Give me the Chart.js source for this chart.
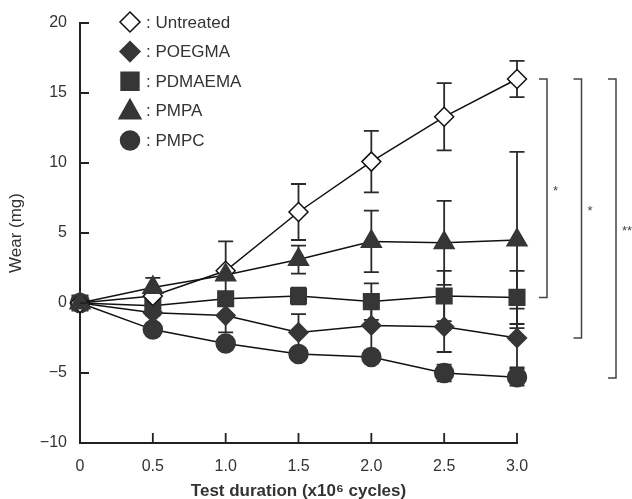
<!DOCTYPE html>
<html>
    <head>
        <meta charset="UTF-8"/>
        <script src="https://cdn.jsdelivr.net/npm/chart.js@4.4.0/dist/chart.umd.min.js"></script>
        <style>
            body{margin:0;background:#fff;}
        </style>
    </head>
    <body>

        <canvas id="chart" width="632" height="499"></canvas>

        <script>
        // x axis: test duration (x10^6 cycles)
        const durations=[0,0.5,1.0,1.5,2.0,2.5,3.0];
        const xTickLabels=['0','0.5','1.0','1.5','2.0','2.5','3.0'];
        const yTicks=[-10,-5,0,5,10,15,20];
        const yTickLabels=['\u221210','\u22125','0','5','10','15','20'];

        const seriesNames=['Untreated','POEGMA','PDMAEMA','PMPA','PMPC'];
        // wear (mg), mean and SD
        const untreated=[0,0.5,2.3,6.5,10.1,13.3,16.0];
        const untreatedErr=[0,0.3,2.1,2.0,2.2,2.4,1.3];
        const poegma=[0,-0.7,-0.9,-2.1,-1.6,-1.7,-2.5];
        const poegmaErr=[0,0.2,1.2,1.3,1.8,1.8,2.1];
        const pdmaema=[0,-0.2,0.3,0.5,0.1,0.5,0.4];
        const pdmaemaErr=[0,0.3,0.3,0.6,1.3,1.8,1.9];
        const pmpa=[0,1.1,2.0,3.1,4.4,4.3,4.5];
        const pmpaErr=[0,0.7,0.3,1.0,2.2,3.0,6.3];
        const pmpc=[0,-1.9,-2.9,-3.65,-3.85,-5.0,-5.3];
        const pmpcErr=[0,0.2,0.3,0.3,0.3,0.6,0.6];

        // significance brackets (top, bottom, label)
        const bracketTop=[16.0,16.0,16.0];
        const bracketBottom=[0.4,-2.5,-5.35];
        const bracketLabels=['*','*','**'];

        const dark='#363636';
        const FONT='"Liberation Sans", Arial, sans-serif';

        function pts(vals){ return vals.map((v,i)=>({x:durations[i],y:v})); }

        function marker(ctx,style,x,y,r,fill){
            ctx.save();
            ctx.beginPath();
            if(style==='rectRot'){
                ctx.moveTo(x,y-r);ctx.lineTo(x+r,y);ctx.lineTo(x,y+r);ctx.lineTo(x-r,y);ctx.closePath();
            }else if(style==='rect'){
                const s=r*0.85;
                ctx.rect(x-s,y-s,2*s,2*s);
            }else if(style==='triangle'){
                ctx.moveTo(x,y-r);ctx.lineTo(x+r*0.95,y+r*0.7);ctx.lineTo(x-r*0.95,y+r*0.7);ctx.closePath();
            }else{
                ctx.arc(x,y,r,0,Math.PI*2);
            }
            ctx.fillStyle=fill;
            ctx.fill();
            ctx.lineWidth=1.5;
            ctx.strokeStyle=fill==='#ffffff'?'#111':dark;
            ctx.stroke();
            ctx.restore();
        }

        const errorBars={
            id:'errorBars',
            beforeDatasetsDraw(chart){
                const ctx=chart.ctx;
                const y=chart.scales.y;
                ctx.save();
                ctx.strokeStyle='#2a2a2a';
                ctx.lineWidth=1.8;
                chart.data.datasets.forEach((ds,di)=>{
                    const meta=chart.getDatasetMeta(di);
                    ds.err.forEach((e,i)=>{
                        if(!e) return;
                        const px=meta.data[i].x;
                        const v=ds.data[i].y;
                        const t=y.getPixelForValue(v+e), b=y.getPixelForValue(v-e);
                        ctx.beginPath();
                        ctx.moveTo(px,t);ctx.lineTo(px,b);
                        ctx.moveTo(px-7.5,t);ctx.lineTo(px+7.5,t);
                        ctx.moveTo(px-7.5,b);ctx.lineTo(px+7.5,b);
                        ctx.stroke();
                    });
                });
                ctx.restore();
            }
        };

        const extras={
            id:'extras',
            afterDraw(chart){
                const ctx=chart.ctx;
                const xs=chart.scales.x, ys=chart.scales.y;
                const a=chart.chartArea;
                ctx.save();
                // inward tick marks
                ctx.strokeStyle='#222';
                ctx.lineWidth=1.8;
                ctx.beginPath();
                yTicks.forEach(v=>{
                    const py=ys.getPixelForValue(v);
                    ctx.moveTo(a.left,py);ctx.lineTo(a.left+9,py);
                });
                durations.forEach(v=>{
                    const px=xs.getPixelForValue(v);
                    ctx.moveTo(px,a.bottom);ctx.lineTo(px,a.bottom-10);
                });
                ctx.stroke();

                // legend
                ctx.font='17px '+FONT;
                ctx.textBaseline='middle';
                chart.data.datasets.forEach((ds,i)=>{
                    const ly=22+i*29.6;
                    marker(ctx,ds.pointStyle,130,ly,ds.legendR,ds.pointBackgroundColor);
                    ctx.fillStyle='#333';
                    ctx.fillText(': '+seriesNames[i],146,ly+1);
                });

                // significance brackets
                ctx.strokeStyle='#444';
                ctx.lineWidth=1.5;
                ctx.font='13px '+FONT;
                bracketTop.forEach((t,i)=>{
                    const bx=a.right+30+i*34.5;
                    const ty=ys.getPixelForValue(t), by=ys.getPixelForValue(bracketBottom[i]);
                    ctx.beginPath();
                    ctx.moveTo(bx-8,ty);ctx.lineTo(bx,ty);ctx.lineTo(bx,by);ctx.lineTo(bx-8,by);
                    ctx.stroke();
                    ctx.fillStyle='#444';
                    ctx.fillText(bracketLabels[i],bx+6,(ty+by)/2+3);
                });
                ctx.restore();
            }
        };

        const ctx=document.getElementById('chart').getContext('2d');
        const common={borderColor:'#111',borderWidth:1.5,tension:0,clip:false,pointBorderWidth:1.5,pointBorderColor:dark};
        const myChart=new Chart(ctx,{
            type:'line',
            data:{
                datasets:[
                    Object.assign({label:seriesNames[0],data:pts(untreated),err:untreatedErr,pointStyle:'rectRot',pointRadius:9.5,legendR:10,pointBackgroundColor:'#ffffff',order:1},common,{pointBorderColor:'#111'}),
                    Object.assign({label:seriesNames[1],data:pts(poegma),err:poegmaErr,pointStyle:'rectRot',pointRadius:9.5,legendR:10,pointBackgroundColor:dark,order:3},common),
                    Object.assign({label:seriesNames[2],data:pts(pdmaema),err:pdmaemaErr,pointStyle:'rect',pointRadius:11,legendR:10.5,pointBackgroundColor:dark,order:2},common),
                    Object.assign({label:seriesNames[3],data:pts(pmpa),err:pmpaErr,pointStyle:'triangle',pointRadius:11.5,legendR:11.5,pointBackgroundColor:dark,order:0},common),
                    Object.assign({label:seriesNames[4],data:pts(pmpc),err:pmpcErr,pointStyle:'circle',pointRadius:9.5,legendR:9.5,pointBackgroundColor:dark,order:4},common)
                ]
            },
            options:{
                responsive:false,
                animation:false,
                events:[],
                layout:{padding:{left:0,top:23,right:115,bottom:0}},
                plugins:{legend:{display:false},tooltip:{enabled:false}},
                scales:{
                    x:{
                        type:'linear',min:0,max:3,
                        afterFit(s){ s.height=56; },
                        afterBuildTicks(s){ s.ticks=durations.map(v=>({value:v})); },
                        ticks:{callback:(v,i)=>xTickLabels[i],padding:14,color:'#333',font:{family:FONT,size:16},maxRotation:0,autoSkip:false},
                        grid:{display:false,drawTicks:false},
                        border:{display:true,color:'#222',width:2},
                        title:{display:true,text:'Test duration (x10\u2076 cycles)',color:'#333',font:{family:FONT,size:17,weight:'bold'},padding:{top:0,bottom:-3}}
                    },
                    y:{
                        min:-10,max:20,
                        afterFit(s){ s.width=80; },
                        afterBuildTicks(s){ s.ticks=yTicks.map(v=>({value:v})); },
                        ticks:{callback:(v,i)=>yTickLabels[i],padding:13,color:'#333',font:{family:FONT,size:16}},
                        grid:{display:false,drawTicks:false},
                        border:{display:true,color:'#222',width:2},
                        title:{display:true,text:'Wear (mg)',color:'#333',font:{family:FONT,size:17},padding:{top:6,bottom:0}}
                    }
                }
            },
            plugins:[errorBars,extras]
        });
        </script>
    </body>
</html>
